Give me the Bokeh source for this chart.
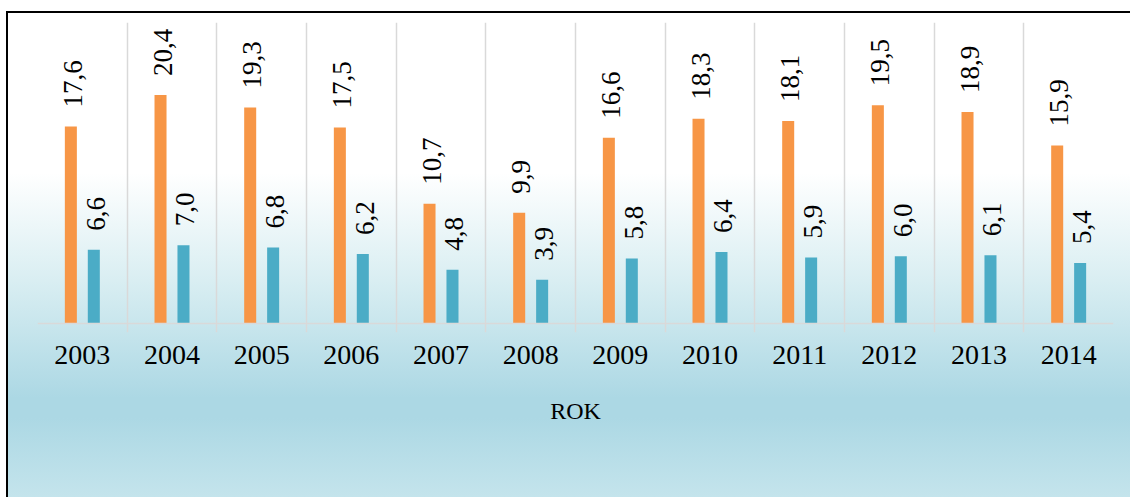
import math
from bokeh.plotting import figure
from bokeh.models import ColumnDataSource, FixedTicker, Span, Legend, LegendItem, Range1d
from bokeh.core.properties import value
from bokeh.embed import file_html
from bokeh.resources import INLINE

years = ["2003", "2004", "2005", "2006", "2007", "2008", "2009", "2010", "2011", "2012", "2013", "2014"]
under25 = [17.6, 20.4, 19.3, 17.5, 10.7, 9.9, 16.6, 18.3, 18.1, 19.5, 18.9, 15.9]
age25_74 = [6.6, 7.0, 6.8, 6.2, 4.8, 3.9, 5.8, 6.4, 5.9, 6.0, 6.1, 5.4]
series_names = ["méně než 25 let", "25 - 74 let"]
colors = ["#F79646", "#4BACC6"]

FONT = "Liberation Serif"
pos = list(range(1, len(years) + 1))
off = 0.128
bw = 0.134
YTOP = 25.1

def fmt(v):
    return f"{v:.1f}".replace(".", ",")

src1 = ColumnDataSource(dict(x=[p - off for p in pos], y=under25, lab=[fmt(v) for v in under25]))
src2 = ColumnDataSource(dict(x=[p + off for p in pos], y=age25_74, lab=[fmt(v) for v in age25_74]))

p = figure(frame_width=1076, frame_height=310,
           output_backend="svg", toolbar_location=None,
           x_range=Range1d(0.5, len(years) + 0.5), y_range=Range1d(-0.8, 26.886),
           min_border_left=29, min_border_right=17, min_border_top=9, min_border_bottom=165)
p.background_fill_alpha = 0
p.border_fill_alpha = 0
p.outline_line_color = None
p.styles = {
    "margin-top": "11px",
    "margin-left": "6px",
    "border-top": "2px solid black",
    "border-left": "2px solid black",
    "background": "linear-gradient(to bottom, #ffffff 0px, #ffffff 160px, #d9eef2 268px, #acd8e4 385px, #acd8e4 405px, #c4e4ec 484px)",
}

r1 = p.vbar(x="x", top="y", width=bw, bottom=0, source=src1, color=colors[0], line_color=None)
r2 = p.vbar(x="x", top="y", width=bw, bottom=0, source=src2, color=colors[1], line_color=None)

for s in (src1, src2):
    p.text(x="x", y="y", text="lab", source=s, angle=math.pi / 2, text_align="left",
           text_baseline="middle", y_offset=-19, x_offset=2,
           text_font=value(FONT), text_font_size="27px", text_color="black")

p.add_layout(Span(location=0, dimension="width", line_color="#d9d9d9", line_width=1.5))

p.yaxis.visible = False
p.ygrid.visible = False
p.xgrid.ticker = FixedTicker(ticks=[i + 0.5 for i in range(len(years) + 1)])
p.xgrid.grid_line_color = "#d9d9d9"
p.xgrid.grid_line_width = 1.5
p.xgrid.bounds = (-0.8, YTOP)

ax = p.xaxis[0]
ax.ticker = FixedTicker(ticks=pos)
ax.major_label_overrides = {k: y for k, y in zip(pos, years)}
ax.major_tick_line_color = None
ax.major_tick_out = 0
ax.major_tick_in = 0
ax.minor_tick_line_color = None
ax.axis_line_color = None
ax.major_label_standoff = 13
ax.major_label_text_font = FONT
ax.major_label_text_font_size = "28px"
ax.major_label_text_color = "black"
ax.axis_label = "ROK"
ax.axis_label_text_font = FONT
ax.axis_label_text_font_size = "24px"
ax.axis_label_text_font_style = "normal"
ax.axis_label_text_color = "black"
ax.axis_label_standoff = 31

legend = Legend(items=[LegendItem(label=series_names[0], renderers=[r1]),
                       LegendItem(label=series_names[1], renderers=[r2])],
                orientation="horizontal", location=(370, -149),
                label_text_font=FONT, label_text_font_size="25px", label_text_color="black",
                glyph_width=14, glyph_height=14, label_standoff=5, spacing=38,
                margin=0, padding=0, background_fill_alpha=0, border_line_color=None)
p.add_layout(legend, "center")

open("out.html", "w").write(file_html(p, INLINE))
